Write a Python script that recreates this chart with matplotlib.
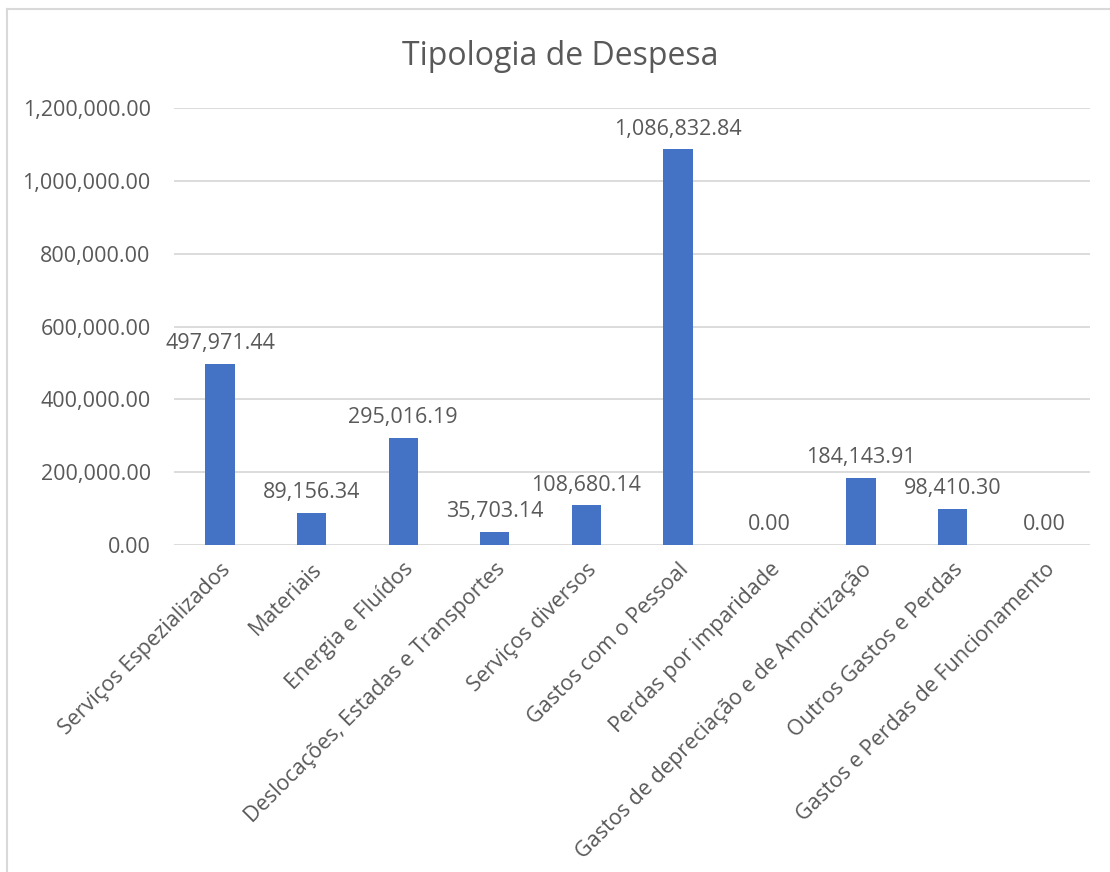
import matplotlib.pyplot as plt
from matplotlib.lines import Line2D
from matplotlib.ticker import FuncFormatter

plt.rcParams['font.family'] = ['Open Sans', 'DejaVu Sans']

categorias = ["Serviços Espezializados", "Materiais", "Energia e Fluídos",
              "Deslocações, Estadas e Transportes", "Serviços diversos",
              "Gastos com o Pessoal", "Perdas por imparidade",
              "Gastos de depreciação e de Amortização",
              "Outros Gastos e Perdas", "Gastos e Perdas de Funcionamento"]
valores = [497971.44, 89156.34, 295016.19, 35703.14, 108680.14,
           1086832.84, 0.00, 184143.91, 98410.30, 0.00]
y_ticks = [0, 200000, 400000, 600000, 800000, 1000000, 1200000]

azul = "#4472C4"
cinza_txt = "#595959"
cinza_grid = "#D9D9D9"

fig = plt.figure(figsize=(11.1, 8.72), dpi=100)
ax = fig.add_axes([0.157, 0.375, 0.825, 0.501])

x = range(len(categorias))
bars = ax.bar(x, valores, width=0.32, color=azul, zorder=3)

for b, v in zip(bars, valores):
    ax.annotate(f"{v:,.2f}", (b.get_x() + b.get_width() / 2, v),
                xytext=(0, 7), textcoords="offset points",
                ha="center", va="bottom", fontsize=15.5, color=cinza_txt)

ax.set_ylim(0, 1200000)
ax.set_xlim(-0.5, len(categorias) - 0.5)
ax.set_yticks(y_ticks)
ax.yaxis.set_major_formatter(FuncFormatter(lambda v, p: f"{v:,.2f}"))
ax.grid(axis="y", color=cinza_grid, linewidth=1.3, zorder=0)

ax.set_xticks(list(x))
ax.set_xticklabels(categorias, rotation=45, ha="right", rotation_mode="anchor",
                   fontsize=15.5, color=cinza_txt)
ax.tick_params(axis="y", labelsize=15.5, labelcolor=cinza_txt, length=0, pad=17)
ax.tick_params(axis="x", length=0, pad=10)

for s in ax.spines.values():
    s.set_visible(False)

fig.text(0.505, 0.935, "Tipologia de Despesa", ha="center", va="center",
         fontsize=23, color=cinza_txt)

# moldura do gráfico (cortada à direita e em baixo)
fig.add_artist(Line2D([7 / 1110, 1], [1 - 9 / 872, 1 - 9 / 872],
                      color=cinza_grid, linewidth=1.5))
fig.add_artist(Line2D([7 / 1110, 7 / 1110], [0, 1 - 9 / 872],
                      color=cinza_grid, linewidth=1.5))

plt.savefig("out.png", dpi=100)
